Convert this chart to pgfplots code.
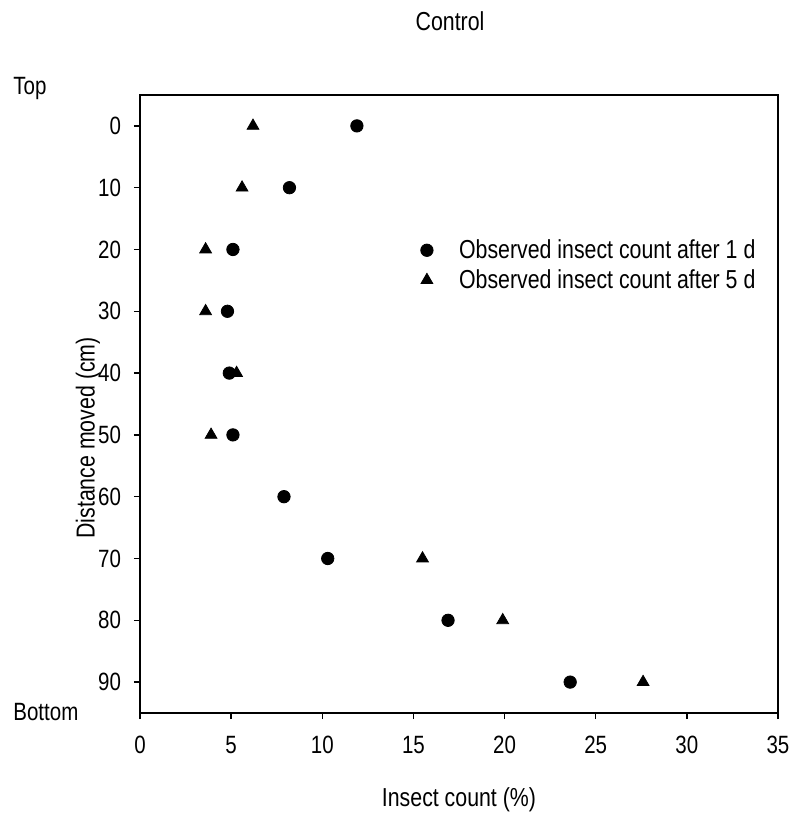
\documentclass[border=0pt]{standalone}
\usepackage{pgfplots}
\pgfplotsset{compat=1.18}
\usepackage{fontspec}
\setmainfont[FakeStretch=0.82]{Liberation Sans}
\begin{document}
\begin{tikzpicture}
\begin{axis}[
  scale only axis,
  width=319pt, height=309pt,
  xmin=0, xmax=35, ymin=-5, ymax=95,
  y dir=reverse,
  xtick={0,5,...,35}, ytick={0,10,...,90},
  tick align=outside,
  xtick pos=bottom, ytick pos=left,
  major tick length=3pt,
  axis line style={line width=0.8pt},
  tick style={line width=0.7pt, black},
  /pgf/number format/assume math mode=true,
  tick label style={font=\fontsize{12.5}{14}\selectfont},
  xticklabel style={yshift=-5pt},
  yticklabel style={xshift=-3pt},
  xlabel={Insect count (\%)},
  ylabel={Distance moved (cm)},
  label style={font=\fontsize{13}{15}\selectfont},
  x label style={at={(axis description cs:0.5,-0.141)}, anchor=center},
  y label style={at={(axis description cs:-0.0815,0.445)}, anchor=center, rotate=0},
  clip=false,
  legend style={draw=none, fill=none, at={(rel axis cs:0.43,0.78)}, anchor=north west,
    font=\fontsize{13}{15}\selectfont, row sep=0pt, column sep=11pt},
  legend cell align=left,
]
\path[use as bounding box] (rel axis cs:-0.2194,-0.178) rectangle (rel axis cs:1.0298,1.1537);
\addplot[only marks, mark=*, mark size=3.1pt, black] coordinates {
(11.9,0) (8.2,10) (5.1,20) (4.8,30) (4.9,40) (5.1,50) (7.9,60) (10.3,70) (16.9,80) (23.6,90)};
\addlegendentry{Observed insect count after 1 d}
\addplot[only marks, mark=triangle*, mark size=3.4pt, black] coordinates {
(6.2,0) (5.6,10) (3.6,20) (3.6,30) (5.3,40) (3.9,50) (15.5,70) (19.9,80) (27.6,90)};
\addlegendentry{Observed insect count after 5 d}
\node[anchor=center, font=\fontsize{13}{15}\selectfont] at (rel axis cs:0.486,1.12) {Control};
\node[anchor=west, inner xsep=0pt, font=\fontsize{12.5}{14}\selectfont] at (rel axis cs:-0.199,1.011) {Top};
\node[anchor=west, inner xsep=0pt, font=\fontsize{12.5}{14}\selectfont] at (rel axis cs:-0.199,0.0016) {Bottom};
\end{axis}
\end{tikzpicture}
\end{document}
